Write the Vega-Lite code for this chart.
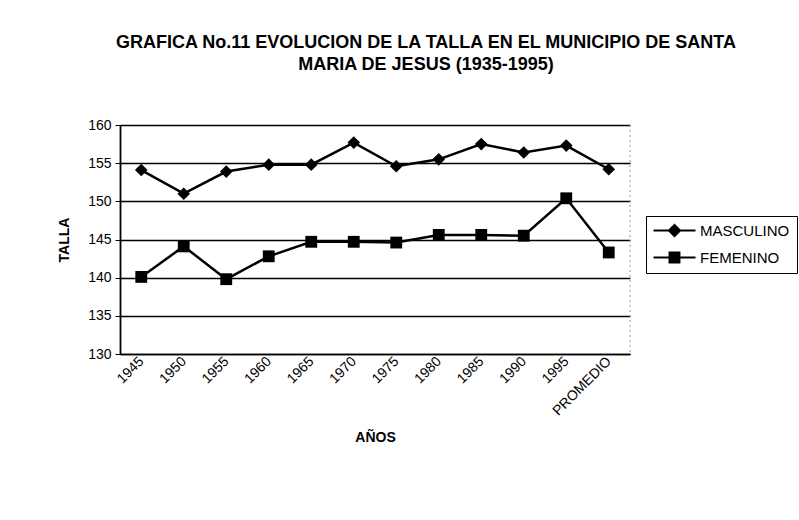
{
  "$schema": "https://vega.github.io/schema/vega-lite/v6.json",
  "width": 510,
  "height": 229,
  "autosize": "none",
  "padding": {"left": 120, "top": 125, "right": 169, "bottom": 166},
  "background": "white",
  "title": {
    "text": ["GRAFICA No.11 EVOLUCION DE LA TALLA EN EL MUNICIPIO DE SANTA", "MARIA DE JESUS (1935-1995)"],
    "font": "Liberation Sans",
    "fontSize": 18,
    "fontWeight": "bold",
    "color": "black",
    "lineHeight": 22,
    "anchor": "middle",
    "dx": 51,
    "offset": 44
  },
  "data": {
    "values": [
      {"anio": "1945", "sexo": "MASCULINO", "talla": 154.1},
      {"anio": "1950", "sexo": "MASCULINO", "talla": 151.0},
      {"anio": "1955", "sexo": "MASCULINO", "talla": 153.9},
      {"anio": "1960", "sexo": "MASCULINO", "talla": 154.8},
      {"anio": "1965", "sexo": "MASCULINO", "talla": 154.8},
      {"anio": "1970", "sexo": "MASCULINO", "talla": 157.7},
      {"anio": "1975", "sexo": "MASCULINO", "talla": 154.6},
      {"anio": "1980", "sexo": "MASCULINO", "talla": 155.5},
      {"anio": "1985", "sexo": "MASCULINO", "talla": 157.5},
      {"anio": "1990", "sexo": "MASCULINO", "talla": 156.4},
      {"anio": "1995", "sexo": "MASCULINO", "talla": 157.3},
      {"anio": "PROMEDIO", "sexo": "MASCULINO", "talla": 154.2},
      {"anio": "1945", "sexo": "FEMENINO", "talla": 140.1},
      {"anio": "1950", "sexo": "FEMENINO", "talla": 144.1},
      {"anio": "1955", "sexo": "FEMENINO", "talla": 139.8},
      {"anio": "1960", "sexo": "FEMENINO", "talla": 142.8},
      {"anio": "1965", "sexo": "FEMENINO", "talla": 144.7},
      {"anio": "1970", "sexo": "FEMENINO", "talla": 144.7},
      {"anio": "1975", "sexo": "FEMENINO", "talla": 144.6},
      {"anio": "1980", "sexo": "FEMENINO", "talla": 145.6},
      {"anio": "1985", "sexo": "FEMENINO", "talla": 145.6},
      {"anio": "1990", "sexo": "FEMENINO", "talla": 145.5},
      {"anio": "1995", "sexo": "FEMENINO", "talla": 150.4},
      {"anio": "PROMEDIO", "sexo": "FEMENINO", "talla": 143.3}
    ]
  },
  "config": {
    "view": {"stroke": null},
    "axis": {
      "labelFont": "Liberation Sans",
      "titleFont": "Liberation Sans",
      "labelColor": "black",
      "titleColor": "black",
      "domainColor": "black",
      "tickColor": "black",
      "labelFontSize": 14,
      "titleFontSize": 14,
      "titleFontWeight": "bold"
    }
  },
  "encoding": {
    "x": {
      "field": "anio",
      "type": "ordinal",
      "sort": null,
      "scale": {"type": "point", "padding": 0.5},
      "axis": {
        "title": "AÑOS",
        "labelAngle": -45,
        "labelAlign": "right",
        "labelBaseline": "middle",
        "labelPadding": 5,
        "labelDx": -24,
        "ticks": false,
        "domainWidth": 1.5,
        "titleY": 83,
        "titleBaseline": "middle"
      }
    },
    "y": {
      "field": "talla",
      "type": "quantitative",
      "scale": {"domain": [130, 160], "nice": false, "zero": false},
      "axis": {
        "title": "TALLA",
        "values": [130, 135, 140, 145, 150, 155, 160],
        "grid": true,
        "gridColor": "black",
        "gridWidth": 1.4,
        "gridOpacity": 1,
        "domainWidth": 1.8,
        "tickSize": 5,
        "labelPadding": 4,
        "titlePadding": 16
      }
    }
  },
  "layer": [
    {
      "mark": {"type": "rule", "color": "#999999", "strokeDash": [2, 3]},
      "data": {"values": [{"a": 1}]},
      "encoding": {"x": {"value": 510}, "y": {"value": 0}, "y2": {"value": 229}}
    },
    {
      "mark": {"type": "line", "color": "black", "strokeWidth": 2.5},
      "encoding": {"detail": {"field": "sexo"}}
    },
    {
      "transform": [{"filter": "datum.sexo === 'MASCULINO'"}],
      "mark": {"type": "point", "filled": true, "color": "black", "opacity": 1, "size": 160, "shape": "diamond"}
    },
    {
      "transform": [{"filter": "datum.sexo === 'FEMENINO'"}],
      "mark": {"type": "point", "filled": true, "color": "black", "opacity": 1, "size": 140, "shape": "square"}
    },
    {
      "transform": [{"filter": "false"}],
      "mark": {"type": "point", "filled": true, "color": "black", "opacity": 1, "size": 196},
      "encoding": {
        "shape": {
          "field": "sexo",
          "type": "nominal",
          "scale": {"domain": ["MASCULINO", "FEMENINO"], "range": ["M-1,-0.15H5V0.15H-1Z M2,-1L3,0L2,1L1,0Z", "M-1,-0.15H5V0.15H-1Z M1.15,-0.85H2.85V0.85H1.15Z"]},
          "legend": {
            "title": null,
            "orient": "none",
            "legendX": 526,
            "legendY": 91,
            "padding": 7,
            "strokeColor": "black",
            "fillColor": "white",
            "labelFont": "Liberation Sans",
            "labelFontSize": 15,
            "labelColor": "black",
            "labelOffset": 32,
            "rowPadding": 11,
            "symbolSize": 196,
            "symbolStrokeWidth": 0,
            "symbolFillColor": "black"
          }
        }
      }
    }
  ]
}
